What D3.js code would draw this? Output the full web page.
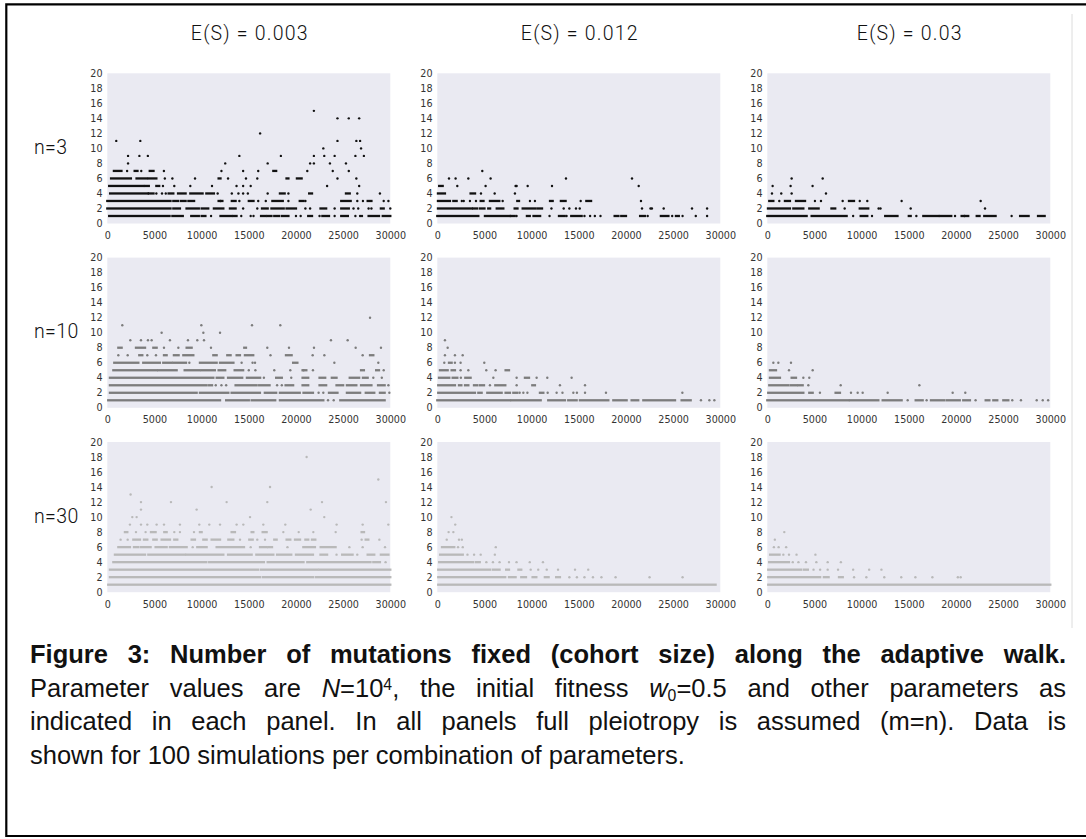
<!DOCTYPE html>
<html><head><meta charset="utf-8">
<script src="https://cdn.jsdelivr.net/npm/d3@7"></script>
<style>
html,body{margin:0;padding:0;background:#fff;}
#wrap{position:relative;width:1086px;height:839px;overflow:hidden;}
svg{position:absolute;left:0;top:0;}
#capbox{position:absolute;left:30px;width:1036px;font-family:"Liberation Sans",Arial,sans-serif;font-size:25.5px;color:#111;}
.cap{white-space:nowrap;height:33.6px;}
.cap.j{text-align:justify;text-align-last:justify;white-space:normal;}
.sup{position:relative;top:-0.45em;font-size:0.62em;line-height:0;}
.sub{position:relative;top:0.28em;font-size:0.62em;line-height:0;}
</style></head>
<body><div id="wrap"></div>
<script>
// ---------------- data ----------------
const colTitles = ["E(S) = 0.003", "E(S) = 0.012", "E(S) = 0.03"];
const rowLabels = ["n=3", "n=10", "n=30"];
const xTicks = [0, 5000, 10000, 15000, 20000, 25000, 30000];
const yTicks = [0, 2, 4, 6, 8, 10, 12, 14, 16, 18, 20];
const rowColors = ["#111111", "#7c7c7c", "#b9b9b9"];

// runs: [cohort size, first generation, last generation] of densely packed points
// dots: [cohort size, [generations...]] of isolated points
const runs_n3_e003 = [[1,200,6600],[1,6900,8000],[1,8900,9700],[1,10000,10400],[1,12000,13200],[1,13400,13700],[1,16300,16800],[1,17000,17400],[1,17700,18200],[1,18500,19200],[1,21300,21700],[1,22800,23500],[1,24800,25500],[1,27700,28800],[1,29200,30000],
[2,0,6700],[2,7000,7700],[2,8400,9700],[2,10000,10700],[2,11300,12300],[2,13000,13600],[2,16400,17000],[2,17400,18700],[2,19000,20000],[2,22600,23200],[2,24800,25600],[2,29000,29300],
[3,0,6700],[3,7000,7500],[3,7800,8300],[3,8600,9200],[3,11800,12200],[3,13200,13600],[3,15000,15500],[3,17500,18600],[3,20400,20800],[3,24800,25800],[3,27600,28000],
[4,300,4300],[4,4400,4900],[4,6500,7000],[4,7500,8300],[4,8800,10100],[4,10500,11300],[4,18300,18800],[4,21400,21700],[4,25300,25700],
[5,200,3800],[5,4000,4400],[5,5200,5500],
[6,400,2500],[6,3100,4200],[6,4400,5200],[6,11800,12000],[6,19000,19200],[6,20100,20600],
[7,700,1500],[7,2900,3200],[7,4500,4900],[7,17600,17900]];
const dots_n3_e003 = [[1,[11000,14200,15200,15500,20000,20500,22500,24100,26300,26800,27000]],
[2,[14400,15900,21000,21500,24100,26100,26600,27700,28000,30000]],
[3,[12000,14000,16000,16800,19200,21000,26500,27100,29300,29800]],
[4,[5200,5800,6200,11700,13200,13900,14400,14900,17000,19200,26500,28900]],
[5,[5900,7100,8800,11100,13700,14400,15200,23300,26700]],
[6,[6100,6900,9300,12800,14700,15900,24400,26400]],
[7,[2100,3600,6000,12100,14400,16000,21200,23900,25600]],
[8,[2200,12500,17000,21500,21900,23600,25300]],
[9,[2200,3400,4300,14000,18400,21900,23000,24100,26300,27200]],
[10,[22900,26900]],[11,[950,3500,24400,26400,26800]],[12,[16200]],[14,[24400,25600,26700]],[15,[21900]]];

const runs_n3_e012 = [[1,0,4350],[1,5050,7700],[1,7800,8200],[1,9500,9800],[1,10200,10900],[1,12900,13500],[1,14200,15300],[1,18800,19200],[1,19500,20000],[1,21500,22000],[1,23700,24500],[1,25300,25600],
[2,70,3640],[2,3800,4200],[2,4500,5000],[2,5400,5600],[2,6300,7000],[2,8200,8500],[2,9050,10350],[2,10600,11100],
[3,70,1340],[3,1700,2050],[3,4600,4900],[3,5580,6570],[3,8480,8660],[3,11950,12230],[3,13100,13600],[3,15800,16300],
[4,70,810],[4,3530,4000],[5,200,570]];
const dots_n3_e012 = [[1,[8400,11900,13700,15600,16200,16700,17300,22300,24900,26000,27400,28600]],
[2,[12100,13400,14000,14700,15100,21700,22600,22750,24000,27000,28600]],
[3,[2600,2800,3460,4100,6930,9820,10350,15200,21590]],
[4,[4630,6080,8230]],
[5,[2120,5120,8300,8410,9580,12160,21350]],
[6,[1240,1940,3290,5650,13640,20640]],
[7,[4770]]];

const runs_n3_e03 = [[1,0,4170],[1,4700,8410],[1,9900,10600],[1,12500,13800],[1,15000,15200],[1,16540,18130],[1,18300,19500],[1,20600,21300],[1,22200,22500],[1,23000,24200],[1,26800,27700],[1,28700,29400],
[2,70,2400],[2,2760,3820],[2,4450,5440],[2,6800,7200],[2,9800,10700],
[3,210,640],[3,1870,2400],[3,3040,4000],[3,8660,9190]];
const dots_n3_e03 = [[1,[9100,11100,15800,19900,20900,25900]],
[2,[8200,11800,12000,15200,23080]],
[3,[1270,5050,5690,7990,9800,10600,14240,22620]],
[4,[495,1480,2580,6220]],
[5,[565,2470,4800]],
[6,[2580,5870]]];

const runs_n10_e003 = [[1,100,11950],[1,12600,15000],[1,15300,17800],[1,18300,22900],[1,24700,29400],
[2,280,9470],[2,9820,12830],[2,13180,16180],[2,16700,17900],[2,18300,20400],[2,20800,21800],[2,23500,24400],[2,25400,26800],[2,27400,28300],[2,28900,29400],
[3,280,10530],[3,10800,11100],[3,13600,15830],[3,16100,17200],[3,18900,19700],[3,20700,21300],[3,22500,23200],[3,24300,25000],[3,25400,26400],[3,26900,28000],[3,28700,29400],
[4,280,11240],[4,11600,12300],[4,12800,14300],[4,14800,16200],[4,17900,18500],[4,20700,21300],[4,22500,23100],[4,23800,24300],[4,25700,26700],[4,27100,27600],
[5,640,5230],[5,5400,7350],[5,8200,9800],[5,10000,11400],[5,11800,12500],[5,13500,14400],[5,20700,21100],[5,26900,27200],[5,28500,28800],
[6,740,3290],[6,3810,5570],[6,5930,6810],[6,7000,8340],[6,9820,11590],[6,11950,13370],[6,19700,20150],
[7,3390,3710],[7,6010,6290],[7,7060,7560],[7,8060,9120],[7,11240,11590],[7,12720,13070],[7,13710,14060],[7,14590,15470],[7,18940,19540],[7,27850,28200],
[8,1170,1520],[8,3040,4000],[8,4880,5230],[8,8410,8940],[8,14520,14700]];
const dots_n10_e003 = [[1,[23400,24000]],
[2,[22400,22900,29900]],
[3,[11500,12100,12600,18000,18500,29800]],
[4,[16600,19500,28200,29100]],
[5,[15000,15700,17700,19400,20800,21800,29300]],
[6,[8700,14240,15400,15660,24070,28730]],
[7,[1170,2160,4240,5160,17300,21770,23010,27070]],
[8,[6010,7530,10990,16960,19260,21910,26330,29010]],
[9,[2440,3570,4310,4700,6640,8550,9540,10250,23710,25480]],
[10,[5760,10180,11950]],
[11,[1590,9970,15340,18340]],
[12,[27850]]];

const runs_n10_e012 = [[1,0,7700],[1,7880,10960],[1,11760,13530],[1,13880,14770],[1,15120,18130],[1,18660,20070],[1,20600,21300],[1,21840,25200],[1,25900,26860],
[2,100,3990],[2,4350,4700],[2,5300,6820],[2,7240,7700],[2,8060,8480],[2,10880,11240],
[3,100,1870],[3,2300,2550],[3,2940,3290],[3,3890,4240],[3,4520,4950],[3,6150,7210],[3,10070,10350],
[4,180,1270],[4,1630,2120],[4,2970,3530],[4,9290,9720],
[5,280,1100],[5,1520,1870],[5,7240,7600],
[6,1240,1520]];
const dots_n10_e012 = [[1,[27950,28840,29370]],
[2,[8730,9120,9550,11700,12650,13270,14420,14800,15660,17880,25980]],
[3,[5580,8410,13000,15660]],
[4,[2500,5940,8410,10530,11660,14240]],
[5,[2470,3290,5190,6180]],
[6,[740,1870,2470,4980]],
[7,[810,1870,2690]],
[8,[1100]],
[9,[810]]];

const runs_n10_e03 = [[1,0,8590],[1,8770,11770],[1,12230,14240],[1,15730,16470],[1,17350,18730],[1,19000,20400],[1,20770,21480],[1,23150,23540],[1,23960,24380],[1,25020,25550],
[2,100,3820],[2,4450,4810],[2,7240,7700],
[3,210,2230],[3,2480,3110],[3,3290,3750],
[4,280,1340],[4,2580,3040],
[5,280,920]];
const dots_n10_e03 = [[1,[14880,16890,22080,25970,26890,28560,29200,29770]],
[2,[5580,8870,9580,10110,12760,19650,20990]],
[3,[4350,7780,16120]],
[4,[3820,4450]],
[5,[2300,4810]],
[6,[640,1170,2510]]];

const runs_n30_e003 = [[1,100,30000],
[2,280,16200],[2,16500,21800],[2,22100,30000],
[3,280,16000],[3,16300,22300],[3,22500,30000],
[4,640,10500],[4,10800,16600],[4,17000,20800],[4,21200,27900],[4,28200,28900],
[5,810,4000],[5,4350,8230],[5,8400,12300],[5,12800,15300],[5,15800,17600],[5,18000,19500],[5,20000,21800],[5,22600,23300],[5,24900,26000],[5,27600,28300],[5,29000,29800],
[6,1170,2400],[6,2830,3290],[6,3570,4590],[6,5120,6290],[6,6640,8410],[6,9540,10530],[6,11590,14490],[6,16190,16890],[6,17070,17460],[6,20780,22010],[6,22620,24200],
[7,2760,3460],[7,3890,4240],[7,4880,5230],[7,5760,6640],[7,7100,7420],[7,8940,9290],[7,10180,10530],[7,11060,11950],[7,12830,13360],[7,15050,15410],[7,17700,17950],[7,19010,19400],[7,19900,20430],[7,21000,21300],[7,21700,22050],[7,27390,27670],
[8,1870,2120],[8,4630,5120],[8,6040,6290],[8,9820,10000],[8,13180,13530],[8,15300,15480],[8,16470,16890],[8,26960,27210]];
const dots_n30_e003 = [[4,[29500]],
[5,[24300,26500]],
[6,[9050,15200,19100,25660,27070,29440]],
[7,[1410,2160,14070,15900,16720,26960,28840]],
[8,[3040,4060,7100,7700,9190,18660,20290,21840,24210]],
[9,[2400,3570,4240,5230,6010,7700,9750,10810,11950,13710,14420,16540,18870,24310,27070,29790]],
[10,[2650,3110,15130,23000]],
[11,[3570,9470,21560]],
[12,[3570,6750,12650,16960,22760,29540]],
[13,[2470]],
[14,[11060,17250]],
[15,[28730]],
[18,[21130]]];

const runs_n30_e012 = [[1,100,29500],
[2,100,7200],[2,7600,8300],[2,8900,9400],[2,10100,10500],[2,11400,11800],[2,12600,13000],
[3,100,5600],[3,5900,6600],[3,7300,7600],[3,8600,8900],
[4,200,3800],[4,4100,4500],
[5,300,2700],
[6,500,1800]];
const dots_n30_e012 = [[2,[14000,14800,15600,16500,17400,18900,22500,26000]],
[3,[9900,10700,11600,12800,14600,16000]],
[4,[5200,5900,6600,7600,8400,9800,11200]],
[5,[3200,3900,4600,6100]],
[6,[2200,2700,6200]],
[7,[1000,2300,2600]],
[8,[1200,1700]],
[9,[1900]],
[10,[1500]]];

const runs_n30_e03 = [[1,100,30000],
[2,100,5600],[2,6000,6500],[2,7600,8000],
[3,100,3600],[3,3900,4300],
[4,200,2300],
[5,300,1300]];
const dots_n30_e03 = [[2,[9200,10500,12400,14200,15700,17500,20200,20500]],
[3,[4900,5600,6400,7500,9100,10800,12100]],
[4,[2700,3300,4100,5200,6400,7800]],
[5,[1700,2300,3100,5100]],
[6,[700,1200,2000]],
[7,[800]],
[8,[1800]]];

const captionBold = "Figure 3: Number of mutations fixed (cohort size) along the adaptive walk.";

// ---------------- layout ----------------
const W = 1086, H = 839;
const colX = [107.3, 437.3, 767.3], plotW = 283;
const rowY = [73.3, 257.6, 442], plotH = 150.2;

const panels = [
  {r:0,c:0,runs:runs_n3_e003,dots:dots_n3_e003},
  {r:0,c:1,runs:runs_n3_e012,dots:dots_n3_e012},
  {r:0,c:2,runs:runs_n3_e03,dots:dots_n3_e03},
  {r:1,c:0,runs:runs_n10_e003,dots:dots_n10_e003},
  {r:1,c:1,runs:runs_n10_e012,dots:dots_n10_e012},
  {r:1,c:2,runs:runs_n10_e03,dots:dots_n10_e03},
  {r:2,c:0,runs:runs_n30_e003,dots:dots_n30_e003},
  {r:2,c:1,runs:runs_n30_e012,dots:dots_n30_e012},
  {r:2,c:2,runs:runs_n30_e03,dots:dots_n30_e03}
];

const wrap = d3.select("#wrap");
const svg = wrap.append("svg").attr("width", W).attr("height", H);
svg.append("rect").attr("width", W).attr("height", H).attr("fill", "#fff");

// frame
svg.append("path").attr("d", "M1095,4.3 H6.3 V836 H1095")
  .attr("fill", "none").attr("stroke", "#000").attr("stroke-width", 2.2);
svg.append("line").attr("x1", 1072).attr("x2", 1072).attr("y1", 14).attr("y2", 628)
  .attr("stroke", "#dcdcdc").attr("stroke-width", 1);

// column titles and row labels
colTitles.forEach((t, i) => {
  svg.append("text").attr("x", colX[i] + plotW / 2 + 1).attr("y", 39.5)
    .attr("text-anchor", "middle")
    .style("font-family", "Roboto, 'Open Sans', sans-serif").style("font-weight", 300)
    .style("font-size", "19.5px").style("letter-spacing", "1.2px").attr("fill", "#111").text(t);
});
rowLabels.forEach((t, i) => {
  svg.append("text").attr("x", 34).attr("y", rowY[i] + 80.5)
    .style("font-family", "Roboto, 'Open Sans', sans-serif").style("font-weight", 300)
    .style("font-size", "19.5px").style("letter-spacing", "0.4px").attr("fill", "#111").text(t);
});

panels.forEach(p => {
  const x0 = colX[p.c], y0 = rowY[p.r];
  const xs = d3.scaleLinear().domain([0, 30000]).range([x0, x0 + plotW]);
  const ys = d3.scaleLinear().domain([0, 20]).range([y0 + plotH, y0]);
  const g = svg.append("g");
  g.append("rect").attr("x", x0).attr("y", y0).attr("width", plotW).attr("height", plotH).attr("fill", "#eaeaf2");

  const col = rowColors[p.r];
  const m = 1.15;
  g.selectAll("rect.run").data(p.runs).join("rect").attr("class", "run")
    .attr("x", d => xs(d[1]) - m).attr("width", d => xs(d[2]) - xs(d[1]) + 2 * m)
    .attr("y", d => ys(d[0]) - m).attr("height", 2 * m).attr("fill", col);
  const pts = [];
  p.dots.forEach(([lvl, arr]) => arr.forEach(v => pts.push([v, lvl])));
  g.selectAll("circle.pt").data(pts).join("circle").attr("class", "pt")
    .attr("cx", d => xs(d[0])).attr("cy", d => ys(d[1])).attr("r", 1.2).attr("fill", col);

  const ya = g.append("g").attr("transform", `translate(${x0},0)`)
    .call(d3.axisLeft(ys).tickValues(yTicks).tickSize(0).tickPadding(4.8).tickFormat(d3.format("d")));
  const xa = g.append("g").attr("transform", `translate(0,${y0 + plotH})`)
    .call(d3.axisBottom(xs).tickValues(xTicks).tickSize(0).tickPadding(8.6).tickFormat(d3.format("d")));
  [ya, xa].forEach(a => {
    a.select(".domain").remove();
    a.selectAll("text").style("font-family", "'DejaVu Sans', sans-serif").style("font-size", "9.6px").attr("fill", "#333");
  });
});

// caption
const capTop = 638.2, lh = 33.6;
const box = wrap.append("div").attr("id", "capbox").style("top", capTop + "px").style("line-height", lh + "px");
box.append("div").attr("class", "cap j").style("font-weight", "bold").text(captionBold);
box.append("div").attr("class", "cap j")
  .html('Parameter values are <i>N</i>=10<span class="sup">4</span>, the initial fitness <i>w</i><span class="sub">0</span>=0.5 and other parameters as');
box.append("div").attr("class", "cap j")
  .text("indicated in each panel. In all panels full pleiotropy is assumed (m=n). Data is");
box.append("div").attr("class", "cap")
  .text("shown for 100 simulations per combination of parameters.");
</script>
</body></html>
